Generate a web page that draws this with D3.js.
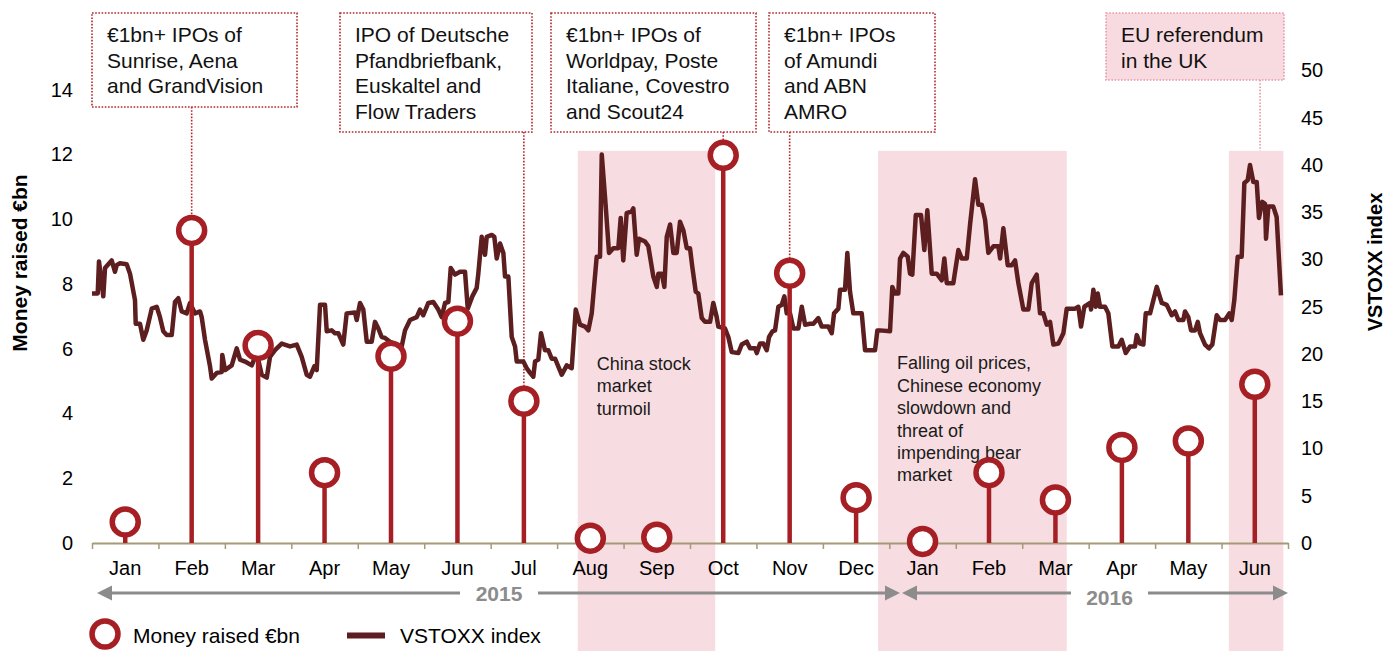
<!DOCTYPE html>
<html>
<head>
<meta charset="utf-8">
<script src="https://cdn.jsdelivr.net/npm/d3@7"></script>
<style>
body { margin: 0; background: #fff; }
text { font-family: Arial, "Liberation Sans", sans-serif; }
</style>
</head>
<body>
<div id="chart"></div>
<script>
// Month categories (Jan 2015 - Jun 2016)
var months = ['Jan', 'Feb', 'Mar', 'Apr', 'May', 'Jun', 'Jul', 'Aug', 'Sep', 'Oct', 'Nov', 'Dec',
              'Jan', 'Feb', 'Mar', 'Apr', 'May', 'Jun'];

// Money raised in IPOs, €bn, one per month
var ipoValues = [0.65, 9.65, 6.1, 2.17, 5.77, 6.85, 4.38, 0.15, 0.18, 11.97, 8.33, 1.4,
                 0.05, 2.17, 1.33, 2.95, 3.15, 4.9];

var leftTicks = [0, 2, 4, 6, 8, 10, 12, 14];
var rightTicks = [0, 5, 10, 15, 20, 25, 30, 35, 40, 45, 50];

// VSTOXX index: time in months since 1 Jan 2015, and index level
var vstoxxMonth = [
  0, 0.086, 0.105, 0.17, 0.196, 0.296, 0.346, 0.372, 0.421, 0.522,
  0.572, 0.647, 0.658, 0.722, 0.772, 0.823, 0.899, 0.974, 1.023, 1.073,
  1.124, 1.2, 1.249, 1.299, 1.35, 1.425, 1.475, 1.55, 1.626, 1.651,
  1.701, 1.776, 1.802, 1.877, 1.952, 1.961, 2.002, 2.103, 2.178, 2.228,
  2.303, 2.404, 2.479, 2.554, 2.63, 2.679, 2.754, 2.855, 2.98, 3.081,
  3.156, 3.232, 3.281, 3.346, 3.382, 3.432, 3.507, 3.533, 3.608, 3.657,
  3.707, 3.782, 3.833, 3.958, 3.984, 4.034, 4.083, 4.135, 4.21, 4.259,
  4.309, 4.36, 4.41, 4.485, 4.661, 4.711, 4.786, 4.887, 4.937, 4.986,
  5.062, 5.137, 5.212, 5.263, 5.313, 5.363, 5.399, 5.463, 5.539, 5.614,
  5.655, 5.724, 5.79, 5.814, 5.865, 5.915, 5.941, 6.016, 6.055, 6.091,
  6.141, 6.191, 6.216, 6.266, 6.317, 6.367, 6.392, 6.492, 6.543, 6.593,
  6.642, 6.668, 6.717, 6.758, 6.818, 6.868, 6.919, 6.969, 7.07, 7.145,
  7.22, 7.28, 7.345, 7.42, 7.47, 7.521, 7.596, 7.646, 7.672, 7.732,
  7.781, 7.846, 7.921, 7.957, 7.996, 8.047, 8.123, 8.147, 8.198, 8.233,
  8.323, 8.373, 8.448, 8.5, 8.524, 8.575, 8.614, 8.65, 8.7, 8.75,
  8.8, 8.85, 8.9, 8.951, 9.0, 9.035, 9.086, 9.125, 9.177, 9.226,
  9.302, 9.351, 9.402, 9.426, 9.527, 9.577, 9.628, 9.727, 9.778, 9.854,
  9.904, 9.979, 10.005, 10.054, 10.104, 10.155, 10.19, 10.24, 10.28, 10.33,
  10.381, 10.42, 10.456, 10.506, 10.556, 10.631, 10.682, 10.732, 10.807, 10.857,
  10.932, 10.983, 11.082, 11.133, 11.168, 11.233, 11.258, 11.333, 11.368, 11.408,
  11.458, 11.585, 11.635, 11.785, 11.82, 11.86, 12.01, 12.045, 12.086, 12.135,
  12.161, 12.211, 12.277, 12.312, 12.346, 12.398, 12.477, 12.527, 12.572, 12.638,
  12.713, 12.789, 12.828, 12.864, 12.963, 13.039, 13.09, 13.165, 13.215, 13.29,
  13.34, 13.391, 13.441, 13.49, 13.566, 13.641, 13.667, 13.716, 13.782, 13.842,
  13.892, 13.942, 14.017, 14.092, 14.143, 14.218, 14.268, 14.318, 14.369, 14.419,
  14.469, 14.544, 14.619, 14.67, 14.795, 14.845, 14.885, 14.935, 15.021, 15.036,
  15.071, 15.107, 15.137, 15.171, 15.246, 15.296, 15.357, 15.447, 15.498, 15.558,
  15.623, 15.698, 15.724, 15.773, 15.823, 15.859, 15.924, 16.025, 16.1, 16.175,
  16.25, 16.3, 16.35, 16.425, 16.45, 16.5, 16.541, 16.601, 16.642, 16.676,
  16.751, 16.811, 16.861, 16.927, 16.977, 17.052, 17.117, 17.153, 17.192, 17.243,
  17.303, 17.343, 17.394, 17.428, 17.478, 17.529, 17.563, 17.613, 17.654, 17.669,
  17.704, 17.779, 17.829, 17.894
];
var vstoxxValue = [
  26.4, 26.4, 29.8, 26.1, 29.1, 29.9, 28.7, 29.4, 29.6, 29.5,
  28.5, 25.7, 23.2, 23.2, 21.5, 22.5, 24.8, 25.0, 23.9, 22.4,
  22.0, 22.0, 25.5, 25.9, 24.5, 24.3, 25.4, 24.3, 24.5, 23.9,
  21.5, 18.7, 17.4, 18.0, 18.1, 19.9, 18.3, 18.8, 20.6, 19.4,
  19.2, 18.8, 20.1, 17.8, 17.5, 19.7, 20.4, 21.1, 20.8, 21.0,
  19.7, 17.8, 17.6, 18.7, 18.3, 25.2, 25.2, 22.4, 22.5, 22.2,
  22.2, 21.0, 24.3, 24.4, 23.6, 25.4, 24.7, 21.3, 21.3, 23.4,
  22.7, 21.8, 21.7, 21.3, 20.8, 22.5, 23.6, 23.9, 24.7, 24.1,
  25.4, 25.5, 24.7, 23.9, 25.4, 25.5, 29.1, 28.4, 28.7, 28.7,
  24.8, 26.1, 27.0, 28.5, 32.4, 30.5, 32.4, 32.6, 32.4, 30.1,
  31.7, 30.7, 28.2, 28.2, 21.8, 20.8, 19.2, 19.2, 18.5, 18.0,
  17.6, 19.2, 19.4, 22.2, 20.4, 20.4, 19.5, 19.5, 17.8, 18.8,
  18.5, 24.7, 23.1, 22.9, 22.5, 24.3, 30.3, 30.3, 41.1, 35.6,
  30.7, 31.2, 31.2, 34.4, 29.9, 34.9, 35.1, 35.4, 30.5, 32.2,
  31.9, 31.4, 28.2, 27.1, 28.5, 28.5, 27.1, 32.4, 33.7, 30.7,
  30.7, 34.0, 33.1, 31.2, 31.2, 29.2, 26.6, 26.4, 23.8, 23.4,
  23.4, 25.4, 23.9, 22.9, 22.7, 21.8, 20.2, 20.1, 21.0, 21.3,
  20.6, 20.6, 20.1, 21.1, 21.1, 20.4, 21.8, 22.4, 22.5, 25.0,
  25.2, 26.1, 24.3, 24.3, 22.7, 22.7, 25.0, 23.1, 23.2, 23.2,
  23.8, 22.9, 22.9, 22.2, 24.3, 24.8, 26.8, 26.8, 30.7, 26.6,
  24.3, 24.3, 20.4, 20.4, 22.5, 22.5, 22.4, 27.1, 26.4, 26.4,
  30.1, 30.7, 30.3, 28.5, 28.4, 34.7, 34.7, 31.0, 35.2, 28.5,
  28.5, 27.8, 30.1, 27.5, 27.5, 31.0, 30.1, 30.1, 33.7, 38.5,
  35.8, 35.8, 34.2, 30.7, 31.4, 31.4, 30.1, 33.3, 29.4, 29.4,
  29.9, 27.5, 24.7, 24.7, 27.5, 28.4, 24.3, 24.3, 23.1, 23.4,
  21.0, 21.1, 22.2, 24.8, 24.8, 25.0, 22.9, 25.0, 25.4, 24.7,
  26.8, 25.0, 26.4, 25.0, 25.0, 24.3, 20.8, 20.8, 21.5, 20.1,
  20.8, 20.8, 22.0, 21.1, 21.0, 24.3, 24.3, 27.1, 25.4, 25.2,
  24.1, 24.5, 23.6, 23.6, 24.5, 23.9, 22.5, 22.5, 23.4, 22.2,
  21.0, 20.6, 21.0, 24.1, 23.6, 23.6, 24.3, 23.6, 25.7, 30.3,
  30.3, 38.1, 38.4, 40.0, 38.2, 38.2, 34.4, 36.1, 35.9, 32.2,
  35.6, 35.6, 34.5, 26.2
];

// Stress periods (months since 1 Jan 2015), top on VSTOXX scale
var shadeStart = [7.31, 11.83, 17.11];
var shadeEnd = [9.38, 14.67, 17.93];
var shadeTop = 41.5;
var shadeText = [
  ['China stock', 'market', 'turmoil'],
  ['Falling oil prices,', 'Chinese economy', 'slowdown and', 'threat of', 'impending bear', 'market'],
  []
];

// Call-out notes and the month they point to
var noteText = [
  ['€1bn+ IPOs of', 'Sunrise, Aena', 'and GrandVision'],
  ['IPO of Deutsche', 'Pfandbriefbank,', 'Euskaltel and', 'Flow Traders'],
  ['€1bn+ IPOs of', 'Worldpay, Poste', 'Italiane, Covestro', 'and Scout24'],
  ['€1bn+ IPOs', 'of Amundi', 'and ABN', 'AMRO'],
  ['EU referendum', 'in the UK']
];
var noteMonth = [1, 6, 9, 10, 17.58];

app = {};
app.run = function() {
  var width = 1398,
      height = 651;

  var red = '#a51f24',
      lineColor = '#5c1e1e',
      pink = '#f7dde1',
      tan = '#a49a78',
      grey = '#8c8c8c';

  var svg = d3.select('#chart')
    .append('svg')
      .attr('width', width)
      .attr('height', height);

  var x = d3.scaleLinear().domain([0, 18]).range([92, 1288]);
  var yL = d3.scaleLinear().domain([0, 14]).range([543, 89.6]);
  var yR = d3.scaleLinear().domain([0, 50]).range([543, 70.5]);

  // Shaded periods
  svg.selectAll('.shade')
      .data(shadeStart)
    .enter().append('rect')
      .attr('class', 'shade')
      .attr('x', function(d) { return x(d); })
      .attr('width', function(d, i) { return x(shadeEnd[i]) - x(d); })
      .attr('y', yR(shadeTop))
      .attr('height', height - yR(shadeTop))
      .attr('fill', pink);

  var shadeTextY = [370, 369.3, 0];
  shadeText.forEach(function(lines, i) {
    var t = svg.append('text')
      .attr('font-size', 18)
      .attr('fill', '#1a1a1a');
    lines.forEach(function(s, j) {
      t.append('tspan')
        .attr('x', x(shadeStart[i]) + 19)
        .attr('y', shadeTextY[i] + j * 22.4)
        .text(s);
    });
  });

  // Left axis
  var gl = svg.append('g')
    .attr('transform', 'translate(92,0)')
    .call(d3.axisLeft(yL).tickValues(leftTicks).tickSize(0).tickPadding(19));
  gl.select('.domain').remove();
  gl.selectAll('text').attr('font-size', 20).attr('fill', '#000')
    .attr('font-family', 'Arial, "Liberation Sans", sans-serif');

  // Right axis
  var gr = svg.append('g')
    .attr('transform', 'translate(1288,0)')
    .call(d3.axisRight(yR).tickValues(rightTicks).tickSize(0).tickPadding(13));
  gr.select('.domain').remove();
  gr.selectAll('text').attr('font-size', 20).attr('fill', '#000')
    .attr('font-family', 'Arial, "Liberation Sans", sans-serif');

  // Axis titles
  svg.append('text')
    .attr('transform', 'translate(27,263)rotate(-90)')
    .attr('text-anchor', 'middle')
    .attr('font-size', 21)
    .attr('font-weight', 'bold')
    .text('Money raised €bn');
  svg.append('text')
    .attr('transform', 'translate(1382,262)rotate(-90)')
    .attr('text-anchor', 'middle')
    .attr('font-size', 20)
    .attr('font-weight', 'bold')
    .text('VSTOXX index');

  // Bottom axis: ticks at month boundaries
  var gb = svg.append('g')
    .attr('transform', 'translate(0,543)')
    .call(d3.axisBottom(x).tickValues(d3.range(19)).tickSize(6).tickSizeOuter(0).tickFormat(''));
  gb.select('.domain').attr('stroke', tan).attr('stroke-width', 2);
  gb.selectAll('.tick line').attr('stroke', tan).attr('stroke-width', 1.5);

  svg.selectAll('.month')
      .data(months)
    .enter().append('text')
      .attr('class', 'month')
      .attr('x', function(d, i) { return x(i + 0.5); })
      .attr('y', 575)
      .attr('text-anchor', 'middle')
      .attr('font-size', 20)
      .text(function(d) { return d; });

  // Year arrows
  var years = [
    {label: '2015', x1: 97, x2: 900, g1: 460, g2: 538, ty: 601},
    {label: '2016', x1: 902, x2: 1288, g1: 1071, g2: 1148, ty: 605}
  ];
  years.forEach(function(a) {
    var ay = 593;
    svg.append('line').attr('x1', a.x1 + 12).attr('x2', a.g1).attr('y1', ay).attr('y2', ay)
      .attr('stroke', grey).attr('stroke-width', 3);
    svg.append('line').attr('x1', a.g2).attr('x2', a.x2 - 12).attr('y1', ay).attr('y2', ay)
      .attr('stroke', grey).attr('stroke-width', 3);
    svg.append('path')
      .attr('d', 'M' + a.x1 + ',' + ay + 'L' + (a.x1 + 15) + ',' + (ay - 7.5) + 'L' + (a.x1 + 15) + ',' + (ay + 7.5) + 'Z')
      .attr('fill', grey);
    svg.append('path')
      .attr('d', 'M' + a.x2 + ',' + ay + 'L' + (a.x2 - 15) + ',' + (ay - 7.5) + 'L' + (a.x2 - 15) + ',' + (ay + 7.5) + 'Z')
      .attr('fill', grey);
    svg.append('text')
      .attr('x', (a.g1 + a.g2) / 2)
      .attr('y', a.ty)
      .attr('text-anchor', 'middle')
      .attr('font-size', 21)
      .attr('font-weight', 'bold')
      .attr('fill', grey)
      .text(a.label);
  });

  // Call-out boxes
  var noteBoxes = [
    {x: 92, y: 13, w: 205, h: 94},
    {x: 340, y: 13, w: 192, h: 119},
    {x: 551, y: 13, w: 205, h: 119},
    {x: 769, y: 13, w: 166, h: 119},
    {x: 1106, y: 13, w: 178, h: 67}
  ];
  noteText.forEach(function(lines, i) {
    var b = noteBoxes[i];
    var last = i === 4;
    var stroke = last ? '#e99aa6' : '#b3262b';
    var cx = x(noteMonth[i] + (last ? 0 : 0.5));
    var yEnd = last ? yR(shadeTop) : yL(ipoValues[noteMonth[i]]) - 15;
    svg.append('line')
      .attr('x1', cx).attr('x2', cx)
      .attr('y1', b.y + b.h).attr('y2', yEnd)
      .attr('stroke', stroke)
      .attr('stroke-width', 1.6)
      .attr('stroke-dasharray', '1.6,1.6');
    svg.append('rect')
      .attr('x', b.x).attr('y', b.y)
      .attr('width', b.w).attr('height', b.h)
      .attr('fill', last ? '#f8dbe0' : '#fff')
      .attr('stroke', stroke)
      .attr('stroke-width', 1.6)
      .attr('stroke-dasharray', '1.6,1.6');
    var t = svg.append('text').attr('font-size', 21).attr('fill', '#111');
    lines.forEach(function(s, j) {
      t.append('tspan')
        .attr('x', b.x + 15)
        .attr('y', 42 + j * 25.5)
        .text(s);
    });
  });

  // VSTOXX line
  var line = d3.line()
    .x(function(d, i) { return x(vstoxxMonth[i]); })
    .y(function(d) { return yR(d); });
  svg.append('path')
    .datum(vstoxxValue)
    .attr('d', line)
    .attr('fill', 'none')
    .attr('stroke', lineColor)
    .attr('stroke-width', 4.5)
    .attr('stroke-linejoin', 'round');

  // Lollipops
  svg.selectAll('.stem')
      .data(ipoValues)
    .enter().append('line')
      .attr('class', 'stem')
      .attr('x1', function(d, i) { return x(i + 0.5); })
      .attr('x2', function(d, i) { return x(i + 0.5); })
      .attr('y1', yL(0))
      .attr('y2', function(d) { return yL(d); })
      .attr('stroke', red)
      .attr('stroke-width', 4.5);
  svg.selectAll('.dot')
      .data(ipoValues)
    .enter().append('circle')
      .attr('class', 'dot')
      .attr('cx', function(d, i) { return x(i + 0.5); })
      .attr('cy', function(d) { return yL(d); })
      .attr('r', 13)
      .attr('fill', '#fff')
      .attr('stroke', red)
      .attr('stroke-width', 5.5);

  // Legend
  svg.append('circle')
    .attr('cx', 105).attr('cy', 634).attr('r', 13)
    .attr('fill', '#fff').attr('stroke', red).attr('stroke-width', 5.5);
  svg.append('text')
    .attr('x', 133).attr('y', 643)
    .attr('font-size', 21)
    .text('Money raised €bn');
  svg.append('line')
    .attr('x1', 347).attr('x2', 385).attr('y1', 635.5).attr('y2', 635.5)
    .attr('stroke', lineColor).attr('stroke-width', 6);
  svg.append('text')
    .attr('x', 400).attr('y', 643)
    .attr('font-size', 21)
    .text('VSTOXX index');
};

app.run();
</script>
</body>
</html>
